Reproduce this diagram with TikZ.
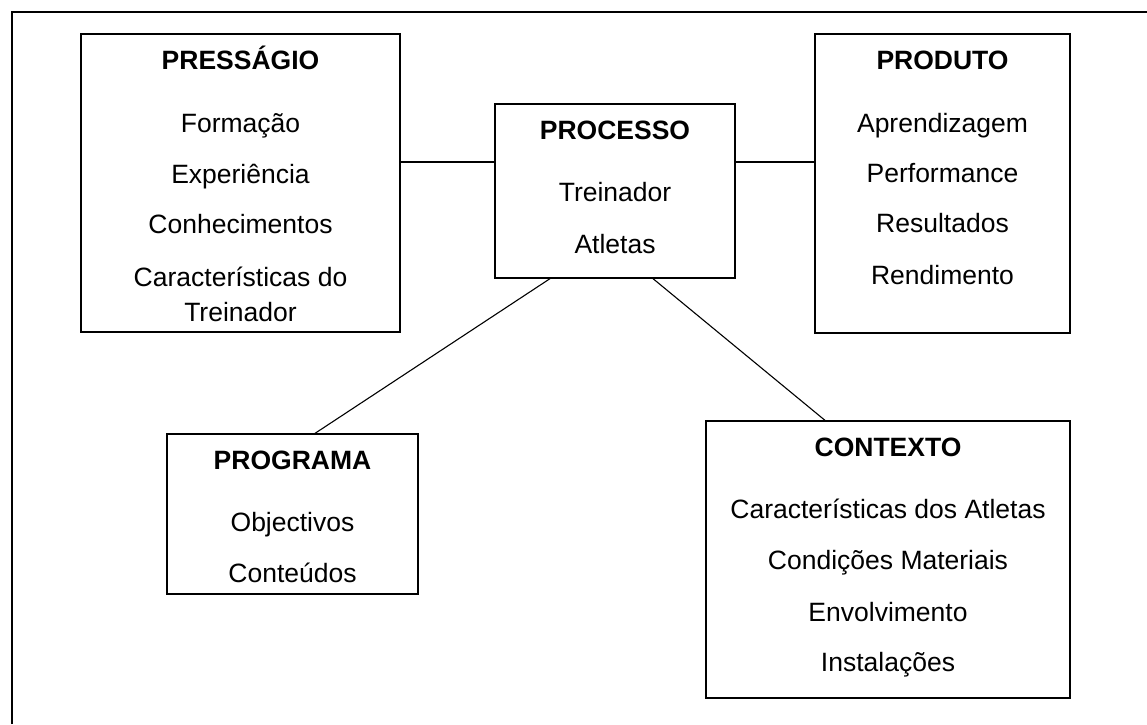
\documentclass[tikz,border=0pt]{standalone}
\usepackage{fontspec}
\setmainfont{Liberation Sans}

\begin{document}
\begin{tikzpicture}[x=1pt, y=-1pt,
    every node/.style={inner sep=0pt, font=\fontsize{26.5}{31}\selectfont},
    box/.style={draw, line width=1.3pt},
    head/.style={anchor=base, font=\fontsize{26.5}{31}\selectfont\bfseries},
    item/.style={anchor=base},
    link/.style={line width=1.1pt}]
   \useasboundingbox (0,0) rectangle (1147,724);
   \draw[line width=1.3pt] (12,724) -- (12,12) -- (1147,12);

   \node[box, minimum width=319pt, minimum height=298pt] (Pres) at (240.5,183) {};
   \node[box, minimum width=240pt, minimum height=174pt] (Proc) at (615,191) {};
   \node[box, minimum width=255pt, minimum height=299pt] (Prod) at (942.5,183.5) {};
   \node[box, minimum width=251pt, minimum height=160pt] (Prog) at (292.5,514) {};
   \node[box, minimum width=364pt, minimum height=277pt] (Cont) at (888,559.5) {};

   \node[head] (pres0) at ([yshift=-36pt]Pres.north) {PRESSÁGIO};
   \node[item] (pres1) at ([yshift=-99pt]Pres.north) {Formação};
   \node[item] (pres2) at ([yshift=-150pt]Pres.north) {Experiência};
   \node[item] (pres3) at ([yshift=-200pt]Pres.north) {Conhecimentos};
   \node[item] (pres4) at ([yshift=-253pt]Pres.north) {Características do};
   \node[item] (pres5) at ([yshift=-288pt]Pres.north) {Treinador};

   \node[head] (proc0) at ([yshift=-36pt]Proc.north) {PROCESSO};
   \node[item] (proc1) at ([yshift=-98pt]Proc.north) {Treinador};
   \node[item] (proc2) at ([yshift=-150pt]Proc.north) {Atletas};

   \node[head] (prod0) at ([yshift=-36pt]Prod.north) {PRODUTO};
   \node[item] (prod1) at ([yshift=-99pt]Prod.north) {Aprendizagem};
   \node[item] (prod2) at ([yshift=-149pt]Prod.north) {Performance};
   \node[item] (prod3) at ([yshift=-199pt]Prod.north) {Resultados};
   \node[item] (prod4) at ([yshift=-251pt]Prod.north) {Rendimento};

   \node[head] (prog0) at ([yshift=-36pt]Prog.north) {PROGRAMA};
   \node[item] (prog1) at ([yshift=-98pt]Prog.north) {Objectivos};
   \node[item] (prog2) at ([yshift=-149pt]Prog.north) {Conteúdos};

   \node[head] (cont0) at ([yshift=-36pt]Cont.north) {CONTEXTO};
   \node[item] (cont1) at ([yshift=-98pt]Cont.north) {Características dos Atletas};
   \node[item] (cont2) at ([yshift=-149pt]Cont.north) {Condições Materiais};
   \node[item] (cont3) at ([yshift=-201pt]Cont.north) {Envolvimento};
   \node[item] (cont4) at ([yshift=-251pt]Cont.north) {Instalações};

  \path[link]
    ([yshift=21pt]Pres.east) edge ([yshift=21pt]Pres.east -| Proc.west)
    ([yshift=29pt]Proc.east) edge ([yshift=29pt]Proc.east -| Prod.west)
    ([xshift=-65pt]Proc.south) edge ([xshift=22.5pt]Prog.north)
    ([xshift=38pt]Proc.south) edge ([xshift=-63pt]Cont.north);
\end{tikzpicture}
\end{document}
